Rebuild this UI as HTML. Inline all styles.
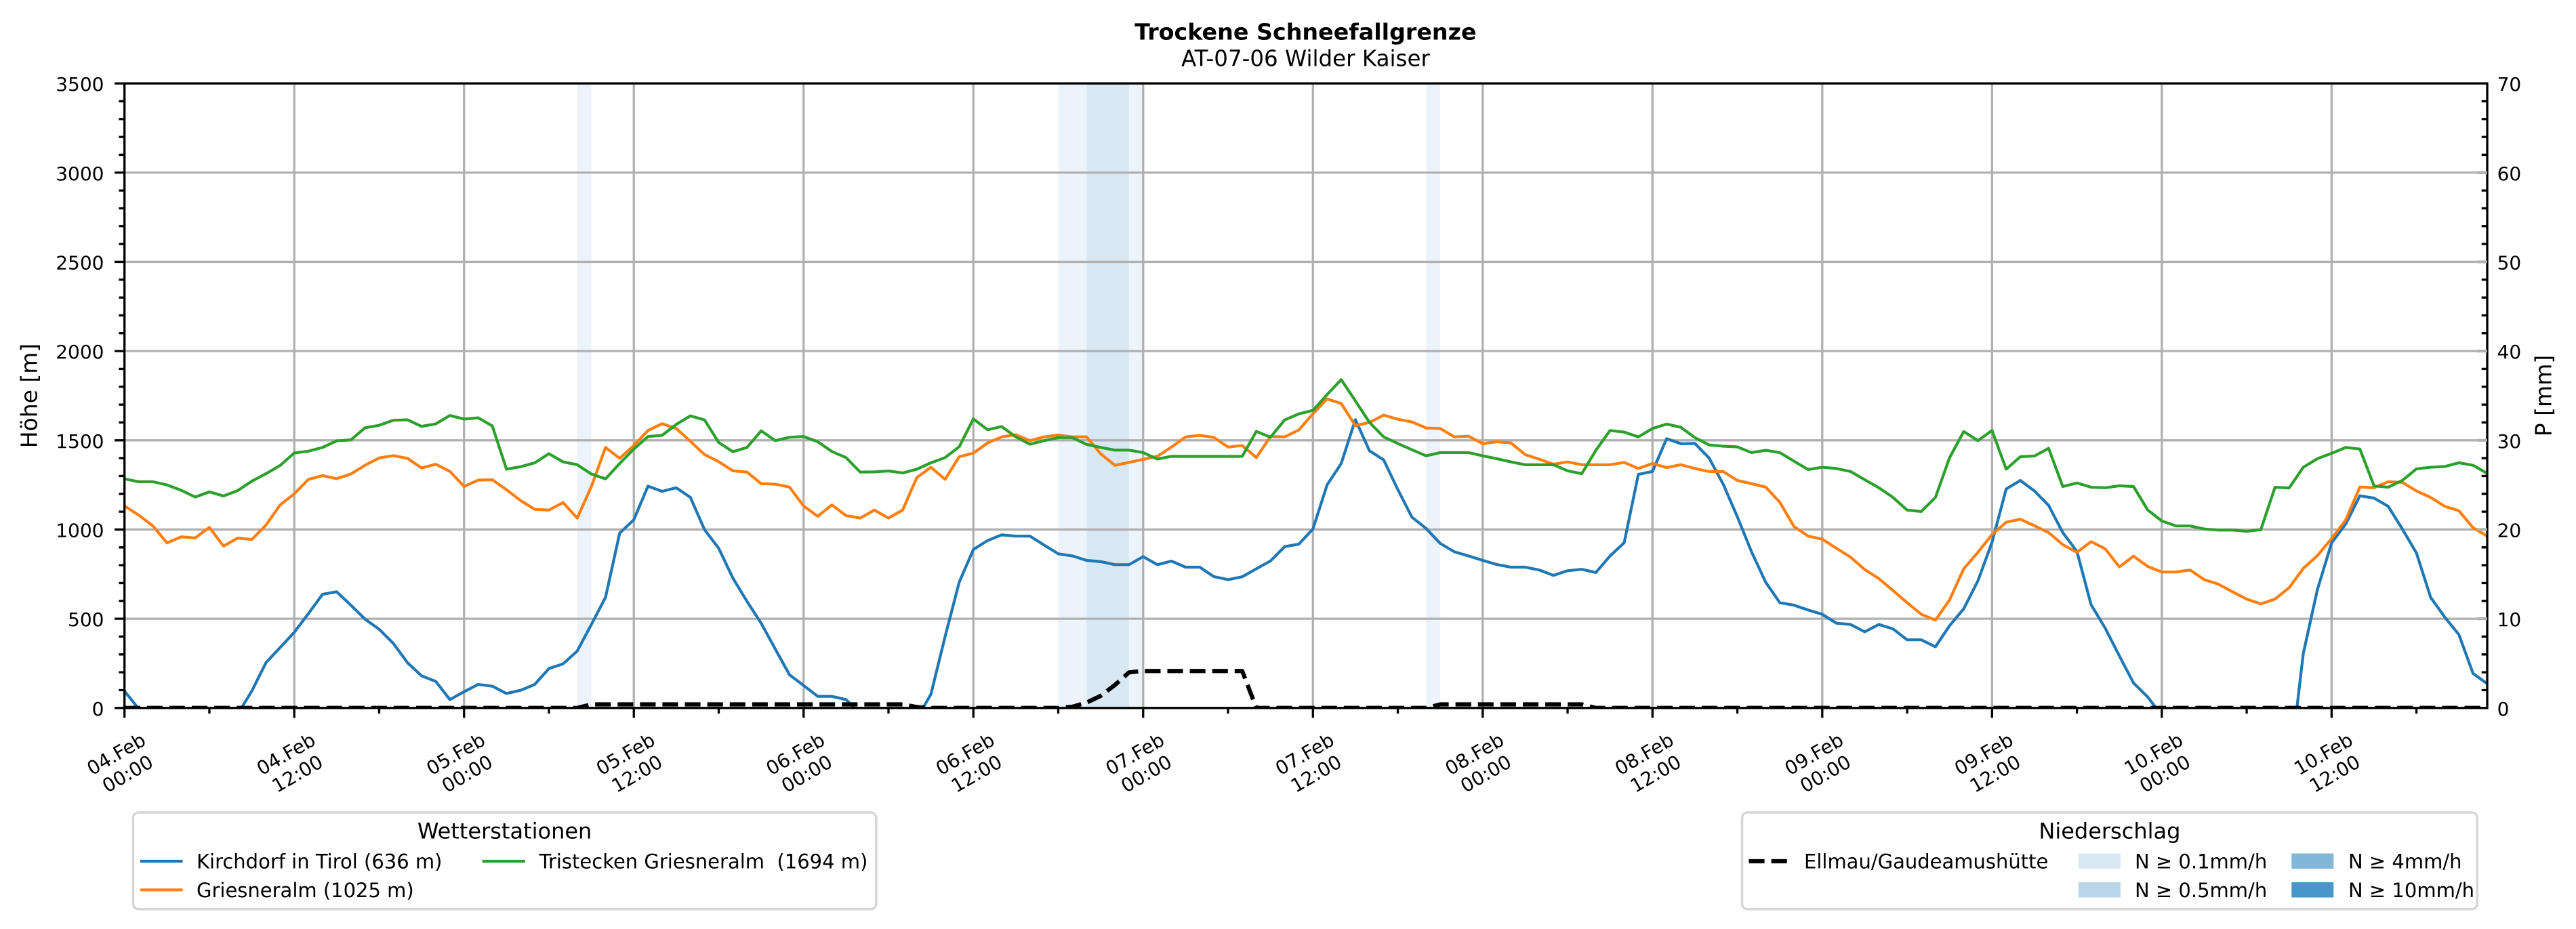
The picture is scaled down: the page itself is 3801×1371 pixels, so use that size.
<!DOCTYPE html>
<html><head><meta charset="utf-8"><style>
html,body{margin:0;padding:0;background:#fff;}
svg{display:block;font-family:"DejaVu Sans","Liberation Sans",sans-serif;}
</style></head><body>
<svg width="3801" height="1371" viewBox="0 0 3801 1371" xmlns="http://www.w3.org/2000/svg">
<defs><clipPath id="pa"><rect x="183.7" y="123.1" width="3486.3" height="921.7"/></clipPath></defs>
<rect x="0" y="0" width="3801" height="1371" fill="#fff"/>
<!-- title -->
<text x="1926.4" y="58.3" text-anchor="middle" font-size="33.3" font-weight="bold">Trockene Schneefallgrenze</text>
<text x="1926.4" y="97.3" text-anchor="middle" font-size="32.5">AT-07-06 Wilder Kaiser</text>
<!-- bands -->
<g>
<rect x="851.73" y="123.1" width="20.88" height="921.7" fill="#edf3fa"/>
<rect x="1561.52" y="123.1" width="41.75" height="921.7" fill="#edf3fa"/>
<rect x="1603.27" y="123.1" width="62.63" height="921.7" fill="#d8e7f4"/>
<rect x="1665.90" y="123.1" width="20.87" height="921.7" fill="#edf3fa"/>
<rect x="2104.29" y="123.1" width="20.88" height="921.7" fill="#edf3fa"/>
</g>
<!-- grid -->
<g stroke="#b0b0b0" stroke-width="3.3" fill="none">
<path d="M183.7 913.13H3670M183.7 781.46H3670M183.7 649.79H3670M183.7 518.11H3670M183.7 386.44H3670M183.7 254.77H3670"/>
<path d="M434.21 123.1V1044.8M684.72 123.1V1044.8M935.24 123.1V1044.8M1185.75 123.1V1044.8M1436.26 123.1V1044.8M1686.77 123.1V1044.8M1937.28 123.1V1044.8M2187.8 123.1V1044.8M2438.31 123.1V1044.8M2688.82 123.1V1044.8M2939.33 123.1V1044.8M3189.84 123.1V1044.8M3440.36 123.1V1044.8"/>
</g>
<!-- data lines -->
<g clip-path="url(#pa)">
<g transform="matrix(20.876,0,0,-0.263343,183.7,1044.8)" fill="none" stroke-width="4.2" stroke-linejoin="round">
<polyline vector-effect="non-scaling-stroke" stroke="#1f77b4" points="0,95 1,-5 2,-60 3,-60 4,-60 5,-60 6,-60 7,-60 8,-35 9,95 10,254 11,339 12,424 13,529 14,637 15,651 16,576 17,498 18,441 19,362 20,254 21,180 22,149 23,47 24,91 25,132 26,122 27,81 28,99 29,132 30,221 31,247 32,319 33,468 34,620 35,980 36,1055 37,1243 38,1214 39,1234 40,1180 41,999 42,895 43,728 44,597 45,475 46,330 47,186 48,126 49,65 50,65 51,47 52,-33 53,-60 54,-60 55,-60 56,-60 57,77 58,400 59,705 60,888 61,938 62,970 63,963 64,963 65,913 66,864 67,852 68,827 69,820 70,803 71,803 72,848 73,803 74,823 75,789 76,789 77,736 78,719 79,735 80,780 81,824 82,904 83,918 84,1003 85,1250 86,1370 87,1616 88,1441 89,1390 90,1224 91,1069 92,1006 93,922 94,875 95,852 96,827 97,804 98,789 99,789 100,773 101,743 102,769 103,777 104,759 105,852 106,926 107,1309 108,1325 109,1509 110,1481 111,1482 112,1401 113,1254 114,1071 115,875 116,705 117,590 118,576 119,549 120,525 121,475 122,468 123,427 124,468 125,443 126,382 127,382 128,343 129,461 130,556 131,712 132,929 133,1227 134,1275 135,1216 136,1135 137,983 138,877 139,579 140,447 141,292 142,140 143,62 144,-43 145,-100 146,-100 147,-100 148,-100 149,-100 150,-100 151,-100 152,-100 153,-370 154,305 155,664 156,925 157,1031 158,1189 159,1176 160,1130 161,1003 162,868 163,620 164,509 165,411 166,193 167,136"/>
<polyline vector-effect="non-scaling-stroke" stroke="#ff7f0e" points="0,1132 1,1081 2,1021 3,925 4,959 5,953 6,1012 7,907 8,952 9,944 10,1025 11,1138 12,1200 13,1281 14,1302 15,1285 16,1311 17,1360 18,1401 19,1414 20,1399 21,1345 22,1366 23,1326 24,1241 25,1277 26,1279 27,1223 28,1162 29,1113 30,1109 31,1151 32,1064 33,1241 34,1460 35,1399 36,1471 37,1555 38,1593 39,1566 40,1494 41,1420 42,1380 43,1329 44,1322 45,1257 46,1254 47,1238 48,1132 49,1074 50,1138 51,1078 52,1064 53,1109 54,1064 55,1109 56,1291 57,1349 58,1281 59,1408 60,1428 61,1485 62,1519 63,1531 64,1498 65,1519 66,1530 67,1519 68,1519 69,1424 70,1360 71,1376 72,1393 73,1410 74,1462 75,1519 76,1528 77,1516 78,1462 79,1471 80,1403 81,1521 82,1519 83,1558 84,1648 85,1732 86,1706 87,1582 88,1600 89,1641 90,1618 91,1603 92,1569 93,1566 94,1519 95,1523 96,1481 97,1492 98,1485 99,1420 100,1394 101,1366 102,1379 103,1363 104,1363 105,1363 106,1376 107,1342 108,1370 109,1347 110,1363 111,1342 112,1325 113,1325 114,1275 115,1257 116,1238 117,1153 118,1017 119,963 120,946 121,895 122,845 123,776 124,725 125,658 126,590 127,525 128,492 129,606 130,780 131,872 132,972 133,1041 134,1058 135,1021 136,983 137,915 138,872 139,932 140,892 141,790 142,851 143,793 144,762 145,762 146,773 147,719 148,694 149,651 150,610 151,583 152,610 153,674 154,782 155,854 156,949 157,1054 158,1238 159,1234 160,1268 161,1264 162,1216 163,1180 164,1130 165,1105 166,1010 167,963"/>
<polyline vector-effect="non-scaling-stroke" stroke="#2ca02c" points="0,1284 1,1268 2,1268 3,1250 4,1220 5,1182 6,1211 7,1188 8,1218 9,1271 10,1313 11,1359 12,1429 13,1439 14,1460 15,1497 16,1502 17,1570 18,1584 19,1612 20,1615 21,1578 22,1592 23,1639 24,1619 25,1626 26,1580 27,1338 28,1352 29,1374 30,1425 31,1379 32,1363 33,1311 34,1284 35,1370 36,1451 37,1521 38,1528 39,1589 40,1637 41,1614 42,1488 43,1436 44,1460 45,1553 46,1498 47,1517 48,1521 49,1492 50,1437 51,1403 52,1322 53,1323 54,1328 55,1317 56,1338 57,1374 58,1403 59,1464 60,1620 61,1559 62,1577 63,1519 64,1478 65,1498 66,1515 67,1515 68,1477 69,1460 70,1445 71,1445 72,1431 73,1395 74,1410 75,1410 76,1410 77,1410 78,1410 79,1410 80,1550 81,1517 82,1614 83,1648 84,1668 85,1756 86,1840 87,1721 88,1600 89,1519 90,1482 91,1447 92,1413 93,1431 94,1431 95,1431 96,1413 97,1397 98,1379 99,1363 100,1363 101,1363 102,1329 103,1313 104,1444 105,1555 106,1546 107,1519 108,1566 109,1591 110,1573 111,1515 112,1474 113,1467 114,1463 115,1431 116,1444 117,1431 118,1383 119,1336 120,1349 121,1342 122,1325 123,1279 124,1234 125,1180 126,1109 127,1101 128,1180 129,1403 130,1549 131,1498 132,1555 133,1338 134,1408 135,1412 136,1455 137,1241 138,1261 139,1237 140,1234 141,1245 142,1241 143,1110 144,1048 145,1020 146,1020 147,1003 148,997 149,997 150,990 151,999 152,1237 153,1233 154,1349 155,1397 156,1427 157,1460 158,1451 159,1245 160,1237 161,1275 162,1340 163,1349 164,1353 165,1374 166,1360 167,1315"/>
</g>
</g>
<!-- spines -->
<rect x="183.7" y="123.1" width="3486.3" height="921.7" fill="none" stroke="#000" stroke-width="3.33"/>
<!-- dashed precipitation -->
<g clip-path="url(#pa)">
<polyline fill="none" stroke="#000" stroke-width="6.25" stroke-dasharray="23.1 10" stroke-linejoin="round" points="183.7,1044.8 851.7,1044.8 872.6,1039.5 1331.9,1039.5 1352.8,1043.5 1373.6,1044.8 1561.5,1044.8 1582.4,1043 1603.3,1036.9 1624.1,1026.9 1645,1011 1665.9,992.3 1686.8,990.2 1832.9,990.2 1853.8,1044.8 2104.3,1044.8 2125.2,1039.5 2333.9,1039.5 2354.8,1044.8 3670,1044.8"/>
</g>
<!-- ticks -->
<g stroke="#000" stroke-width="3.3" fill="none">
<path d="M169.1 1044.8H183.7M169.1 913.13H183.7M169.1 781.46H183.7M169.1 649.79H183.7M169.1 518.11H183.7M169.1 386.44H183.7M169.1 254.77H183.7M169.1 123.1H183.7"/>
<path d="M175.4 1018.47H183.7M175.4 992.13H183.7M175.4 965.8H183.7M175.4 939.46H183.7M175.4 886.8H183.7M175.4 860.46H183.7M175.4 834.13H183.7M175.4 807.79H183.7M175.4 755.12H183.7M175.4 728.79H183.7M175.4 702.45H183.7M175.4 676.12H183.7M175.4 623.45H183.7M175.4 597.12H183.7M175.4 570.78H183.7M175.4 544.45H183.7M175.4 491.78H183.7M175.4 465.45H183.7M175.4 439.11H183.7M175.4 412.78H183.7M175.4 360.11H183.7M175.4 333.77H183.7M175.4 307.44H183.7M175.4 281.11H183.7M175.4 228.44H183.7M175.4 202.1H183.7M175.4 175.77H183.7M175.4 149.43H183.7"/>
<path d="M3661.7 1018.47H3670M3661.7 992.13H3670M3661.7 965.8H3670M3661.7 939.46H3670M3661.7 886.8H3670M3661.7 860.46H3670M3661.7 834.13H3670M3661.7 807.79H3670M3661.7 755.12H3670M3661.7 728.79H3670M3661.7 702.45H3670M3661.7 676.12H3670M3661.7 623.45H3670M3661.7 597.12H3670M3661.7 570.78H3670M3661.7 544.45H3670M3661.7 491.78H3670M3661.7 465.45H3670M3661.7 439.11H3670M3661.7 412.78H3670M3661.7 360.11H3670M3661.7 333.77H3670M3661.7 307.44H3670M3661.7 281.11H3670M3661.7 228.44H3670M3661.7 202.1H3670M3661.7 175.77H3670M3661.7 149.43H3670"/>
<path d="M183.7 1044.8V1059.4M434.21 1044.8V1059.4M684.72 1044.8V1059.4M935.24 1044.8V1059.4M1185.75 1044.8V1059.4M1436.26 1044.8V1059.4M1686.77 1044.8V1059.4M1937.28 1044.8V1059.4M2187.8 1044.8V1059.4M2438.31 1044.8V1059.4M2688.82 1044.8V1059.4M2939.33 1044.8V1059.4M3189.84 1044.8V1059.4M3440.36 1044.8V1059.4"/>
<path d="M308.96 1044.8V1053.1M559.47 1044.8V1053.1M809.98 1044.8V1053.1M1060.49 1044.8V1053.1M1311 1044.8V1053.1M1561.52 1044.8V1053.1M1812.03 1044.8V1053.1M2062.54 1044.8V1053.1M2313.05 1044.8V1053.1M2563.56 1044.8V1053.1M2814.08 1044.8V1053.1M3064.59 1044.8V1053.1M3315.1 1044.8V1053.1M3565.61 1044.8V1053.1"/>
</g>
<g stroke="#b0b0b0" stroke-width="4.2">
<path d="M3655.4 913.13H3670M3655.4 781.46H3670M3655.4 649.79H3670M3655.4 518.11H3670M3655.4 386.44H3670M3655.4 254.77H3670"/>
</g>
<!-- left tick labels -->
<g font-size="28" text-anchor="end">
<text x="153.5" y="1055.8">0</text>
<text x="153.5" y="924.1">500</text>
<text x="153.5" y="792.5">1000</text>
<text x="153.5" y="660.8">1500</text>
<text x="153.5" y="529.1">2000</text>
<text x="153.5" y="397.4">2500</text>
<text x="153.5" y="265.8">3000</text>
<text x="153.5" y="134.1">3500</text>
</g>
<!-- right tick labels -->
<g font-size="28" text-anchor="start">
<text x="3684.6" y="1055.8">0</text>
<text x="3684.6" y="924.1">10</text>
<text x="3684.6" y="792.5">20</text>
<text x="3684.6" y="660.8">30</text>
<text x="3684.6" y="529.1">40</text>
<text x="3684.6" y="397.4">50</text>
<text x="3684.6" y="265.8">60</text>
<text x="3684.6" y="134.1">70</text>
</g>
<!-- axis labels -->
<text transform="translate(54.5,584) rotate(-90)" text-anchor="middle" font-size="33">Höhe [m]</text>
<text transform="translate(3764.5,584) rotate(-90)" text-anchor="middle" font-size="33">P [mm]</text>
<!-- x tick labels -->
<g font-size="28" text-anchor="middle">
<g transform="translate(179.7,1127) rotate(-30)"><text><tspan x="0" y="-6.6">04.Feb</tspan><tspan x="0" y="27">00:00</tspan></text></g>
<g transform="translate(430.2,1127) rotate(-30)"><text><tspan x="0" y="-6.6">04.Feb</tspan><tspan x="0" y="27">12:00</tspan></text></g>
<g transform="translate(680.7,1127) rotate(-30)"><text><tspan x="0" y="-6.6">05.Feb</tspan><tspan x="0" y="27">00:00</tspan></text></g>
<g transform="translate(931.2,1127) rotate(-30)"><text><tspan x="0" y="-6.6">05.Feb</tspan><tspan x="0" y="27">12:00</tspan></text></g>
<g transform="translate(1181.8,1127) rotate(-30)"><text><tspan x="0" y="-6.6">06.Feb</tspan><tspan x="0" y="27">00:00</tspan></text></g>
<g transform="translate(1432.3,1127) rotate(-30)"><text><tspan x="0" y="-6.6">06.Feb</tspan><tspan x="0" y="27">12:00</tspan></text></g>
<g transform="translate(1682.8,1127) rotate(-30)"><text><tspan x="0" y="-6.6">07.Feb</tspan><tspan x="0" y="27">00:00</tspan></text></g>
<g transform="translate(1933.3,1127) rotate(-30)"><text><tspan x="0" y="-6.6">07.Feb</tspan><tspan x="0" y="27">12:00</tspan></text></g>
<g transform="translate(2183.8,1127) rotate(-30)"><text><tspan x="0" y="-6.6">08.Feb</tspan><tspan x="0" y="27">00:00</tspan></text></g>
<g transform="translate(2434.3,1127) rotate(-30)"><text><tspan x="0" y="-6.6">08.Feb</tspan><tspan x="0" y="27">12:00</tspan></text></g>
<g transform="translate(2684.8,1127) rotate(-30)"><text><tspan x="0" y="-6.6">09.Feb</tspan><tspan x="0" y="27">00:00</tspan></text></g>
<g transform="translate(2935.3,1127) rotate(-30)"><text><tspan x="0" y="-6.6">09.Feb</tspan><tspan x="0" y="27">12:00</tspan></text></g>
<g transform="translate(3185.8,1127) rotate(-30)"><text><tspan x="0" y="-6.6">10.Feb</tspan><tspan x="0" y="27">00:00</tspan></text></g>
<g transform="translate(3436.4,1127) rotate(-30)"><text><tspan x="0" y="-6.6">10.Feb</tspan><tspan x="0" y="27">12:00</tspan></text></g>
</g>
<!-- legend left -->
<rect x="196.4" y="1199" width="1096.5" height="142.7" rx="8" ry="8" fill="#fff" stroke="#d6d6d6" stroke-width="3.5"/>
<text x="744.6" y="1237.3" text-anchor="middle" font-size="32">Wetterstationen</text>
<line x1="207" y1="1271" x2="269.6" y2="1271" stroke="#1f77b4" stroke-width="4.2"/>
<text x="290" y="1281.5" font-size="29">Kirchdorf in Tirol (636 m)</text>
<line x1="207" y1="1313.3" x2="269.6" y2="1313.3" stroke="#ff7f0e" stroke-width="4.2"/>
<text x="290" y="1324" font-size="29">Griesneralm (1025 m)</text>
<line x1="711.6" y1="1271" x2="775" y2="1271" stroke="#2ca02c" stroke-width="4.2"/>
<text x="795.5" y="1281.5" font-size="29">Tristecken Griesneralm&#160; (1694 m)</text>
<!-- legend right -->
<rect x="2570.5" y="1199" width="1084.7" height="142.7" rx="8" ry="8" fill="#fff" stroke="#d6d6d6" stroke-width="3.5"/>
<text x="3112.9" y="1237.3" text-anchor="middle" font-size="32">Niederschlag</text>
<line x1="2580.5" y1="1271" x2="2637" y2="1271" stroke="#000" stroke-width="6.25" stroke-dasharray="23.1 10"/>
<text x="2662" y="1281.5" font-size="29">Ellmau/Gaudeamushütte</text>
<rect x="3066.8" y="1259.5" width="62" height="22.5" fill="#d9e7f4"/>
<text x="3150" y="1281.5" font-size="29">N ≥ 0.1mm/h</text>
<rect x="3066.8" y="1302" width="62" height="22.5" fill="#b9d5ea"/>
<text x="3150" y="1324" font-size="29">N ≥ 0.5mm/h</text>
<rect x="3381.3" y="1259.5" width="62" height="22.5" fill="#81b8da"/>
<text x="3465" y="1281.5" font-size="29">N ≥ 4mm/h</text>
<rect x="3381.3" y="1302" width="62" height="22.5" fill="#4997c9"/>
<text x="3465" y="1324" font-size="29">N ≥ 10mm/h</text>
</svg>
</body></html>
